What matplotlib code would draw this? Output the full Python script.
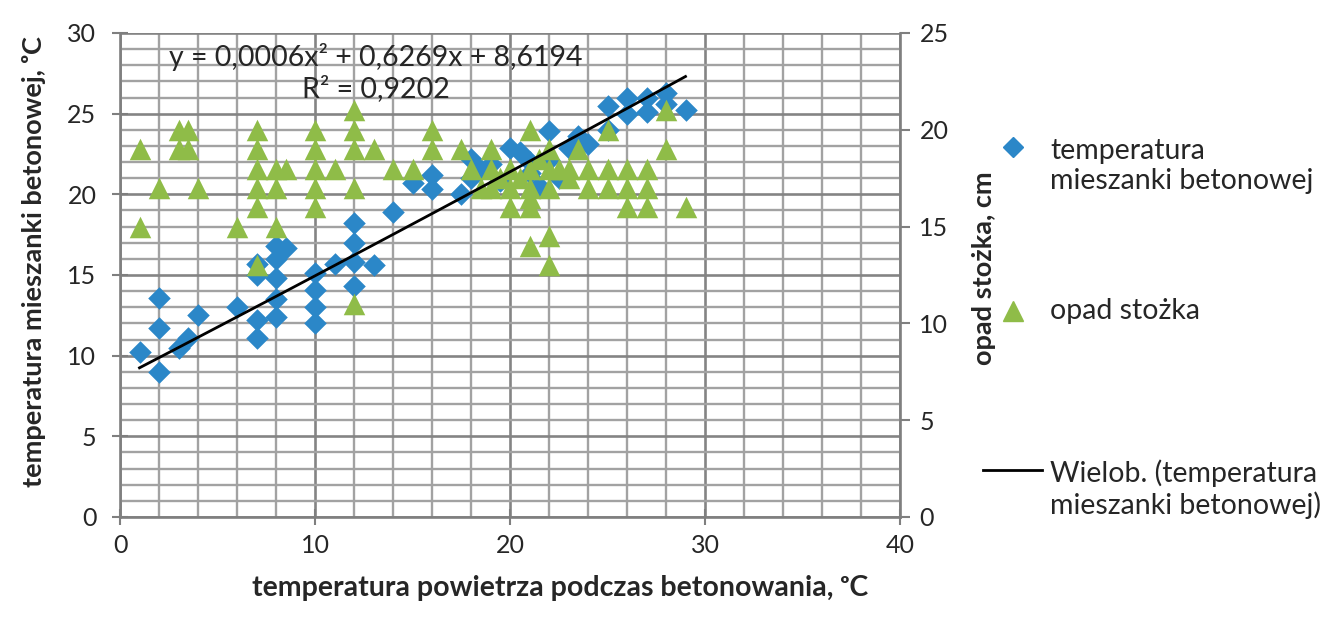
import numpy as np
import matplotlib
matplotlib.use("Agg")
import matplotlib.pyplot as plt
from matplotlib.lines import Line2D
from matplotlib.ticker import MultipleLocator

plt.rcParams['font.family'] = ['Lato', 'DejaVu Sans']

# temperatura mieszanki betonowej (left axis)
mix_x = [1, 2, 2, 2, 3, 3.5, 4, 6, 7, 7, 7, 7, 8, 8, 8, 8, 8, 8.5,
         10, 10, 10, 10, 11, 12, 12, 12, 12, 13, 14, 15, 16, 16, 17.5,
         18, 18, 18.5, 19, 19.5, 20, 20.5, 21, 21, 21.5, 22, 22, 22.5,
         23, 23.5, 24, 25, 25, 26, 26, 27, 27, 28, 28, 29]
mix_y = [10.2, 13.6, 11.7, 9.0, 10.5, 11.1, 12.5, 13.0, 15.0, 15.7, 12.2, 11.1,
         12.4, 13.5, 14.8, 16.0, 16.8, 16.7,
         15.1, 14.1, 13.0, 12.0, 15.7, 18.2, 17.0, 15.8, 14.3, 15.6, 18.9, 20.7,
         21.2, 20.3, 20.0, 22.2, 21.0, 21.5, 21.9, 20.8, 22.9, 22.6, 22.0, 21.3,
         20.5, 23.9, 22.1, 21.0, 22.9, 23.6, 23.1, 25.5, 24.0, 26.0, 25.0, 26.0,
         25.1, 26.3, 25.6, 25.2]

# opad stozka (right axis)
slump_x = [1, 1, 2, 3, 3.5, 3, 3.5, 4, 6, 7, 7, 7, 7, 7, 7, 8, 8.5, 8, 8,
           10, 10, 10, 10, 10, 11, 12, 12, 12, 12, 12, 13, 14, 15, 16, 16,
           17.5, 18, 18.5, 19, 19, 19, 19.5, 20, 20, 20, 20.5, 21, 21, 21,
           21, 21, 21, 21.5, 22, 22, 22, 22, 22, 22.5, 23, 23, 23.5, 24, 24,
           25, 25, 25, 26, 26, 26, 27, 27, 27, 28, 28, 29]
slump_y = [19, 15, 17, 20, 20, 19, 19, 17, 15, 20, 19, 18, 17, 16, 13, 18, 18, 17, 15,
           20, 19, 18, 17, 16, 18, 21, 20, 19, 17, 11, 19, 18, 18, 20, 19,
           19, 18, 17, 19, 18, 17, 17.5, 18, 17, 16, 17.5, 20, 18, 17,
           16.5, 16, 14, 18.5, 19, 18, 17, 14.5, 13, 18, 18, 17.5, 19, 18, 17,
           20, 18, 17, 18, 17, 16, 18, 17, 16, 21, 19, 16]

# trend line (Wielob.)
trend_coef = [0.0006, 0.6269, 8.6194]
trend_range = [1, 29]

blue = '#2b87c8'
green = '#8fbc48'
grid_minor = '#a2a2a2'
grid_major = '#848484'
txt = '#262626'
fs_tick = 18
fs = 20.5      # horizontal texts
fs_rot = 19.5  # rotated axis titles

fig = plt.figure(figsize=(13.27, 6.26), dpi=100)
ax = fig.add_axes([120 / 1327, 1 - 517 / 626, 780 / 1327, 484 / 626])
ax2 = ax.twinx()

ax.set_xlim(0, 40)
ax.set_ylim(0, 30)
ax2.set_ylim(0, 25)

ax.xaxis.set_major_locator(MultipleLocator(10))
ax.xaxis.set_minor_locator(MultipleLocator(2))
ax.yaxis.set_major_locator(MultipleLocator(5))
ax.yaxis.set_minor_locator(MultipleLocator(1))
ax2.yaxis.set_major_locator(MultipleLocator(5))

ax.grid(which='minor', color=grid_minor, lw=1.7)
ax.grid(which='major', color=grid_major, lw=1.9)
ax.set_axisbelow(True)

for a in (ax, ax2):
    for s in a.spines.values():
        s.set_visible(False)
ax.spines['left'].set_visible(True)
ax.spines['bottom'].set_visible(True)
ax2.spines['right'].set_visible(True)
for s in (ax.spines['left'], ax.spines['bottom'], ax2.spines['right']):
    s.set_color('#7f7f7f')
    s.set_linewidth(1.9)

ax.tick_params(which='major', direction='inout', length=12, width=1.5,
               color='#7f7f7f', labelsize=fs_tick, labelcolor=txt, pad=6)
ax.tick_params(axis='y', which='major', pad=11)
ax.tick_params(which='minor', length=0)
ax2.tick_params(direction='out', length=7, width=1.5, color='#7f7f7f',
                labelsize=fs_tick, labelcolor=txt, pad=7)

ax.scatter(mix_x, mix_y, marker='D', s=11.5 ** 2, color=blue, lw=0, zorder=3)
ax2.scatter(slump_x, slump_y, marker='^', s=15.5 ** 2, color=green, lw=0, zorder=3)

xs = np.linspace(trend_range[0], trend_range[1], 100)
ys = np.polyval(trend_coef, xs)
ax2.plot(xs, ys, color='black', lw=2, transform=ax.transData, zorder=4)

ax.text(13.1, 27.55, 'y = 0,0006x² + 0,6269x + 8,6194\nR² = 0,9202',
        ha='center', va='center', multialignment='center', fontsize=fs,
        color=txt, linespacing=1.15, zorder=5)

ax.set_xlabel('temperatura powietrza podczas betonowania, ᵒC', fontsize=fs,
              fontweight='bold', color=txt)
ax.xaxis.set_label_coords((560 - 120) / 780, -(575 - 517) / 484)
ax.set_ylabel('temperatura mieszanki betonowej, ᵒC', fontsize=fs_rot,
              fontweight='bold', color=txt)
ax.yaxis.set_label_coords(-(120 - 46) / 780, (517 - 262) / 484)
ax2.set_ylabel('opad stożka, cm', fontsize=fs_rot, fontweight='bold', color=txt)
ax2.yaxis.set_label_coords((972 - 120) / 780, (517 - 268) / 484)

# legend, drawn by hand to keep the Excel layout
fig.add_artist(Line2D([1013 / 1327], [1 - 147 / 626], marker='D', ms=10,
                      color=blue, lw=0, transform=fig.transFigure))
fig.text(1050 / 1327, 1 - 166 / 626, 'temperatura\nmieszanki betonowej',
         fontsize=fs, color=txt, va='center', linespacing=1.2)
fig.add_artist(Line2D([1013 / 1327], [1 - 311 / 626], marker='^', ms=15,
                      color=green, lw=0, transform=fig.transFigure))
fig.text(1050 / 1327, 1 - 311 / 626, 'opad stożka', fontsize=fs, color=txt,
         va='center')
fig.add_artist(Line2D([983 / 1327, 1042 / 1327], [1 - 470 / 626] * 2,
                      color='black', lw=2, transform=fig.transFigure))
fig.text(1050 / 1327, 1 - 489 / 626, 'Wielob. (temperatura\nmieszanki betonowej)',
         fontsize=fs, color=txt, va='center', linespacing=1.2)

fig.savefig('out.png', dpi=100)
